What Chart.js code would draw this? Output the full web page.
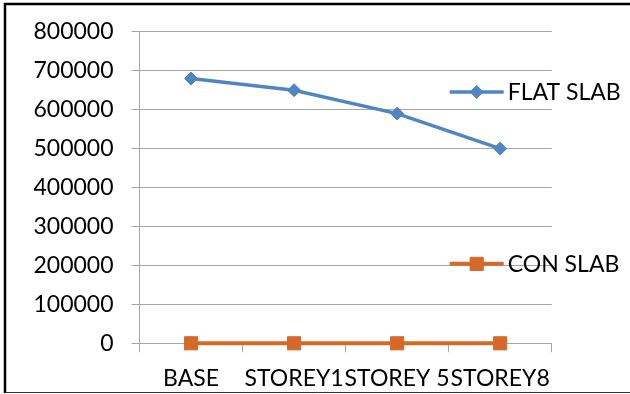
<!DOCTYPE html>
<html>
<head>
<meta charset="utf-8">
<script src="https://cdn.jsdelivr.net/npm/chart.js@4/dist/chart.umd.min.js"></script>
<style>
  html, body { margin: 0; padding: 0; background: #fff; }
  #wrap { position: relative; width: 630px; height: 394px; }
  canvas { display: block; }
</style>
</head>
<body>
<div id="wrap"><canvas id="c" width="630" height="394"></canvas></div>
<script>
// Storey levels along the x axis
const categories = ['BASE', 'STOREY1', 'STOREY 5', 'STOREY8'];
// Series values
const flatSlab = [680000, 650000, 590000, 500000];
const conSlab = [0, 0, 0, 0];
// Y axis range
const yMin = 0;
const yMax = 800000;
const yStep = 100000;

const BLUE = '#4F86C1';
const ORANGE = '#D5692A';

// Frame around the whole figure
const framePlugin = {
  id: 'frame',
  beforeDraw(chart) {
    const ctx = chart.ctx;
    ctx.save();
    ctx.fillStyle = '#fff';
    ctx.fillRect(0, 0, chart.width, chart.height);
    ctx.strokeStyle = '#000';
    ctx.lineWidth = 2.5;
    ctx.beginPath();
    ctx.moveTo(chart.width, 4);
    ctx.lineTo(5, 4);
    ctx.lineTo(5, 393);
    ctx.stroke();
    ctx.strokeStyle = '#333';
    ctx.lineWidth = 1;
    ctx.beginPath();
    ctx.moveTo(5, 392.5);
    ctx.lineTo(chart.width, 392.5);
    ctx.stroke();
    ctx.restore();
  }
};

// Legend entries placed to the right of the plot, each at its own height
const sideLegend = {
  id: 'sideLegend',
  afterDatasetsDraw(chart, args, opts) {
    const ctx = chart.ctx;
    const area = chart.chartArea;
    ctx.save();
    chart.data.datasets.forEach((ds, i) => {
      const y = area.top + opts.rows[i] * (area.bottom - area.top);
      const x0 = area.right - 102, x1 = area.right - 48;
      ctx.strokeStyle = ds.borderColor;
      ctx.lineWidth = ds.borderWidth;
      ctx.beginPath();
      ctx.moveTo(x0, y);
      ctx.lineTo(x1, y);
      ctx.stroke();
      ctx.fillStyle = ds.pointBackgroundColor;
      ctx.strokeStyle = ds.pointBorderColor;
      ctx.lineWidth = ds.pointBorderWidth;
      Chart.helpers.drawPoint(ctx, {
        pointStyle: ds.pointStyle, radius: ds.pointRadius, rotation: 0,
        borderWidth: ds.pointBorderWidth
      }, (x0 + x1) / 2, y);
      ctx.fillStyle = '#000';
      ctx.font = '23px Lato';
      ctx.textAlign = 'left';
      ctx.textBaseline = 'middle';
      ctx.fillText(ds.label, x1 + 4, y + 1);
    });
    ctx.restore();
  }
};

Chart.defaults.font.family = 'Lato';
Chart.defaults.font.size = 23;
Chart.defaults.color = '#000';

new Chart(document.getElementById('c'), {
  type: 'line',
  data: {
    labels: categories,
    datasets: [
      {
        label: 'FLAT SLAB',
        data: flatSlab,
        borderColor: BLUE,
        backgroundColor: BLUE,
        borderWidth: 3.5,
        pointStyle: 'rectRot',
        pointRadius: 6.5,
        pointBackgroundColor: BLUE,
        pointBorderColor: BLUE,
        pointBorderWidth: 1,
        tension: 0,
        clip: false
      },
      {
        label: 'CON SLAB',
        data: conSlab,
        borderColor: ORANGE,
        backgroundColor: ORANGE,
        borderWidth: 4,
        pointStyle: 'rect',
        pointRadius: 9.3,
        pointBackgroundColor: ORANGE,
        pointBorderColor: ORANGE,
        pointBorderWidth: 1,
        tension: 0,
        clip: false
      }
    ]
  },
  plugins: [framePlugin, sideLegend],
  options: {
    responsive: false,
    animation: false,
    events: [],
    layout: { padding: { top: 28, right: 78.3, bottom: 0, left: 0 } },
    plugins: {
      legend: { display: false },
      tooltip: { enabled: false },
      sideLegend: { rows: [0.193, 0.745] }
    },
    scales: {
      x: {
        offset: true,
        grid: {
          offset: true,
          drawOnChartArea: false,
          drawTicks: true,
          tickLength: 9,
          color: '#A6A6A6'
        },
        border: { color: '#A6A6A6', width: 1 },
        ticks: { padding: 12, maxRotation: 0, autoSkip: false, font: { size: 23 } },
        afterFit(scale) { scale.height = 50.7; }
      },
      y: {
        min: yMin,
        max: yMax,
        grid: { color: '#A6A6A6', tickLength: 8 },
        border: { color: '#A6A6A6', width: 1 },
        ticks: {
          stepSize: yStep,
          padding: 18,
          font: { size: 23 },
          callback: (v) => String(v)
        },
        afterFit(scale) { scale.width = 139.5; }
      }
    }
  }
});
</script>
</body>
</html>
